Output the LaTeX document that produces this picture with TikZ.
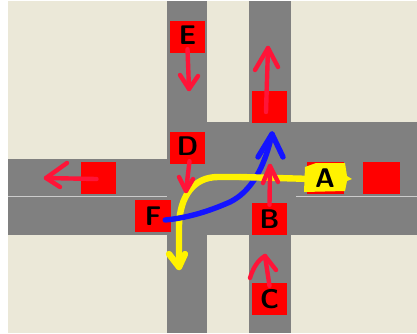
\documentclass[tikz,border=0pt]{standalone}
\usetikzlibrary{positioning}
\definecolor{roadgrey}{HTML}{808080}
\definecolor{landbeige}{HTML}{EBE8D8}
\definecolor{markred}{HTML}{FF1438}
\definecolor{markblue}{HTML}{1414FF}
\begin{document}
\begin{tikzpicture}[x=1pt,y=-1pt,on grid,auto]
	\tikzset{car/.style={fill=red,draw=none,inner sep=0pt,minimum width=35pt,minimum height=32pt,font=\fontsize{27}{27}\sffamily\bfseries}}
	\tikzset{land/.style={fill=landbeige,draw=none}}
	\tikzset{redpath/.style={draw=markred,line width=4.4pt,line cap=round,line join=round}}
	\tikzset{bluepath/.style={draw=markblue,line width=5.4pt,line cap=round,line join=round}}
	\tikzset{yellowpath/.style={draw=yellow,line width=6.4pt,line cap=round,line join=round}}
	\useasboundingbox (0,0) rectangle (417,333);
	% Ground and roads
	\fill[white] (0,0) rectangle (417,333);
	\fill[roadgrey] (8,1) rectangle (417,333);
	\fill[land] (8,1) rectangle (167,159);
	\fill[land] (207,1) rectangle (249,122);
	\fill[land] (291,1) rectangle (417,122);
	\fill[land] (8,235) rectangle (167,333);
	\fill[land] (207,235) rectangle (249,333);
	\fill[land] (291,235) rectangle (417,333);
	\draw[line width=1pt,gray!40] (8,196) -- (167,196);
	\draw[line width=1pt,gray!40] (296,196) -- (417,196);
	% Place Nodes
	\node[car,text depth=4pt] (E) at (187.5,37) {E};
	\node[car,text depth=4pt] (D) [below=111pt of E] {D};
	\node[car] (TOP) at (269.5,107) {};
	\node[car] (B) [below=112pt of TOP] {B};
	\node[car] (C) [below=80pt of B] {C};
	\node[car] (LEFT) at (98.5,178) {};
	\node[car,minimum width=36pt] (F) [below right=38pt and 54.5pt of LEFT] {F};
	\node[car,minimum width=37pt] (HIDDEN) at (325.5,178) {};
	\node[car,minimum width=37pt] (RIGHT) [right=56pt of HIDDEN] {};
	% Path ends
	\coordinate (ETIP) at (189,89);
	\coordinate (DTIP) at (186,191);
	\coordinate (TOPTIP) at (268,48);
	\coordinate (LEFTTIP) at (46,178);
	\coordinate (BTIP) at (270,166);
	\coordinate (CTIP) at (265,256);
	\coordinate (BLUETIP) at (272,134);
	\coordinate (YELLOWTIP) at (179,267);
	\coordinate (YELLOWMID) at (240,177);
	% Draw turning paths
	\draw[yellowpath] (YELLOWMID) -- (218,177) .. controls (193,177) and (180,197) .. (179,225) -- (YELLOWTIP);
	\draw[yellowpath] (169,254) -- (YELLOWTIP) -- (185,254);
	\draw[bluepath] (F.east) ++(-6pt,-4pt) .. controls (185,218) and (205,213) .. (230,202) .. controls (250,192) and (264,170) .. (BLUETIP);
	\draw[bluepath] (258,157) -- (BLUETIP) -- (283,157);
	\draw[yellowpath] (HIDDEN.west) ++(6pt,-1pt) -- (YELLOWMID);
	% Highlight on A
	\fill[yellow] (305,167) -- (316,163) -- (345,163) -- (347,176) -- (352,179) -- (347,181) -- (345,191) -- (304,192) -- cycle;
	\node[font=\fontsize{27}{27}\sffamily\bfseries] (A) at (325,178) {A};
	% Draw car arrows
	\draw[redpath] (E.south) ++(0,4pt) -- (ETIP);
	\draw[redpath] (180,75) -- (ETIP) -- (198,76);
	\draw[redpath] (D.south) ++(2pt,3pt) -- (DTIP);
	\draw[redpath] (179,177) -- (DTIP) -- (193,179);
	\draw[redpath] (TOP.center) ++(-3.5pt,-5pt) -- (TOPTIP);
	\draw[redpath] (255,70) -- (TOPTIP) -- (278,67);
	\draw[redpath] (LEFT.center) ++(-2pt,-1pt) -- (LEFTTIP);
	\draw[redpath] (67,163) -- (LEFTTIP) -- (60,187);
	\draw[redpath] (B.north) ++(0,-2pt) -- (BTIP);
	\draw[redpath] (263,183) -- (BTIP) -- (278,182);
	\draw[redpath] (C.north) ++(0,-3pt) -- (CTIP);
	\draw[redpath] (250,278) .. controls (253,268) and (258,260) .. (CTIP) -- (276,270);
\end{tikzpicture}
\end{document}
